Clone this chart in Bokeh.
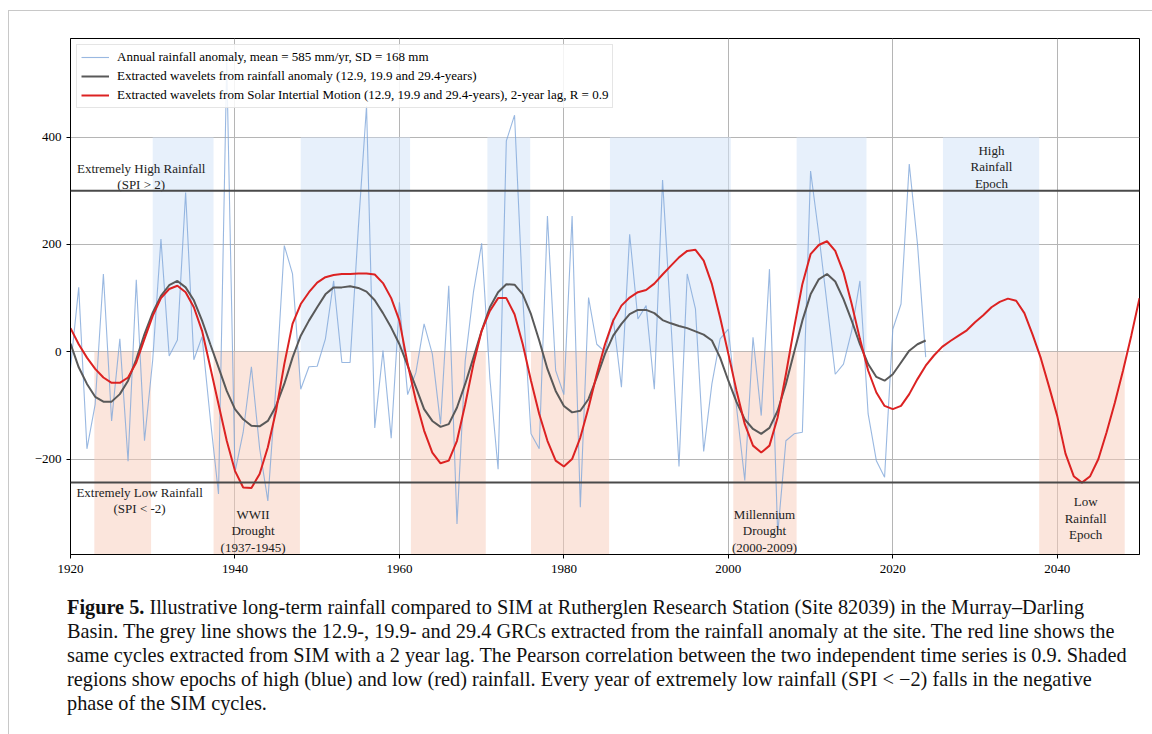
from bokeh.plotting import figure
from bokeh.models import Range1d, Span, Div, FixedTicker
from bokeh.layouts import column
from bokeh.embed import file_html
from bokeh.resources import INLINE
from bokeh.core.properties import value

# ---------------- data ----------------
rain_years = list(range(1920, 2025))
rain_anomaly = [
    -30, 120, -181, -98, 145, -129, 24, -204, 134, -166,
    -15, 210, -8, 22, 297, -15, 28, -125, -265, 540,
    -225, -150, -28, -180, -278, -60, 198, 145, -70, -28,
    -27, 24, 132, -20, -20, 230, 458, -142, 2, -161,
    92, -80, -39, 52, -4, -135, 123, -321, -17, 111,
    202, -50, -219, 393, 441, 100, -153, -181, 253, -35,
    -80, 253, -290, 101, 14, 0, 62, -66, 219, 61,
    86, -70, 320, 60, -214, 145, 80, -186, -60, 24,
    42, -104, -240, 27, -119, 154, -340, -166, -153, -150,
    337, 219, 89, -42, -23, 39, 132, -116, -203, -234,
    42, 89, 350, 201, -10,
]
rain_wavelets = [
    15, -29, -60, -84, -93, -93, -79, -54, -14, 33,
    73, 104, 124, 132, 120, 96, 58, 14, -29, -73,
    -107, -126, -138, -139, -129, -101, -60, -11, 30, 58,
    83, 107, 120, 120, 122, 119, 112, 96, 72, 45,
    14, -26, -66, -107, -129, -140, -135, -104, -60, -11,
    39, 83, 111, 126, 125, 107, 70, 21, -32, -73,
    -101, -113, -110, -88, -48, -4, 30, 52, 70, 78,
    78, 72, 59, 53, 48, 44, 38, 32, 21, -11,
    -54, -94, -126, -144, -153, -142, -110, -60, -1, 58,
    107, 135, 145, 131, 98, 58, 14, -23, -47, -54,
    -42, -20, 2, 14, 21,
]
sim_years = list(range(1920, 2051))
sim_wavelets = [
    44, 14, -11, -32, -48, -58, -58, -48, -20, 24,
    67, 100, 117, 123, 111, 83, 39, -29, -98, -166,
    -222, -253, -254, -228, -178, -110, -23, 52, 89, 111,
    129, 139, 143, 145, 145, 146, 146, 144, 128, 100,
    58, -23, -91, -147, -188, -208, -203, -166, -98, -23,
    39, 76, 100, 100, 70, 14, -54, -116, -166, -203,
    -214, -200, -160, -104, -42, 14, 58, 86, 101, 111,
    115, 127, 144, 160, 176, 188, 190, 170, 126, 64,
    -4, -73, -135, -175, -188, -175, -122, -42, 45, 126,
    182, 199, 206, 188, 148, 89, 24, -35, -76, -101,
    -107, -101, -79, -51, -26, -7, 9, 20, 30, 40,
    55, 68, 83, 93, 99, 95, 72, 32, -12, -65,
    -120, -190, -232, -244, -232, -200, -150, -95, -35, 30,
    100,
]
high_epoch_start = [1930.0, 1948.0, 1970.7, 1985.6, 2008.3, 2026.1]
high_epoch_end = [1937.4, 1961.3, 1975.9, 2000.3, 2016.8, 2037.8]
high_epoch_top = 400
low_epoch_start = [1922.9, 1937.4, 1961.4, 1976.0, 2000.6, 2037.8]
low_epoch_end = [1929.8, 1947.9, 1970.5, 1985.5, 2008.3, 2048.2]
spi_high = 300
spi_low = -244
x_ticks = [1920, 1940, 1960, 1980, 2000, 2020, 2040]
y_ticks = [-200, 0, 200, 400]

Y_MIN, Y_MAX = -378, 584
SERIF = "Liberation Serif"

p = figure(width=1143, height=579, output_backend="svg", toolbar_location=None,
           x_range=Range1d(1920, 2050), y_range=Range1d(Y_MIN, Y_MAX))
p.min_border_left = 61
p.min_border_right = 13
p.min_border_top = 27
p.min_border_bottom = 36
p.outline_line_color = "black"
p.outline_line_alpha = 1.0
p.outline_line_width = 1
p.background_fill_color = "white"
p.border_fill_color = "white"

for g in (p.xgrid[0], p.ygrid[0]):
    g.grid_line_color = "#b5b5b5"
    g.grid_line_width = 1
p.xaxis.ticker = FixedTicker(ticks=x_ticks)
p.yaxis.ticker = FixedTicker(ticks=y_ticks)
p.yaxis.major_label_overrides = {t: (("\u2212" + str(abs(t))) if t < 0 else str(t)) for t in y_ticks}
for ax in (p.xaxis[0], p.yaxis[0]):
    ax.axis_line_color = "black"
    ax.major_tick_line_color = "black"
    ax.major_tick_out = 4
    ax.major_tick_in = 0
    ax.minor_tick_line_color = None
    ax.major_label_text_font = SERIF
    ax.major_label_text_font_size = "13px"
    ax.major_label_text_color = "black"
p.xaxis.major_label_standoff = 6
p.yaxis.major_label_standoff = 5

# shaded epochs
p.quad(left=high_epoch_start, right=high_epoch_end, bottom=0, top=high_epoch_top,
       fill_color="#d3e4f7", fill_alpha=0.55, line_color=None)
p.quad(left=low_epoch_start, right=low_epoch_end, bottom=Y_MIN, top=0,
       fill_color="#f8cbb9", fill_alpha=0.5, line_color=None)

# thresholds
p.add_layout(Span(location=spi_high, dimension="width", line_color="#4a4a4a", line_width=2))
p.add_layout(Span(location=spi_low, dimension="width", line_color="#4a4a4a", line_width=2))

p.line(rain_years, rain_anomaly, line_color="#7fa6da", line_alpha=0.8, line_width=1.1,
       legend_label="Annual rainfall anomaly, mean = 585 mm/yr, SD = 168 mm")
p.line(rain_years, rain_wavelets, line_color="#595959", line_width=2,
       legend_label="Extracted wavelets from rainfall anomaly (12.9, 19.9 and 29.4-years)")
p.line(sim_years, sim_wavelets, line_color="#dc2222", line_width=2,
       legend_label="Extracted wavelets from Solar Intertial Motion (12.9, 19.9 and 29.4-years), 2-year lag, R = 0.9")

# annotations
ann_x = [1928.6, 1928.4, 1942.2, 2004.4, 2043.45, 2032.0]
ann_y = [327, -277, -334, -334, -310, 345]
ann_text = ["Extremely High Rainfall\n(SPI > 2)", "Extremely Low Rainfall\n(SPI < -2)",
            "WWII\nDrought\n(1937-1945)", "Millennium\nDrought\n(2000-2009)",
            "Low\nRainfall\nEpoch", "High\nRainfall\nEpoch"]
p.text(x=ann_x, y=ann_y, text=ann_text, text_font=value(SERIF), text_font_size="13px",
       text_color="#222222", text_align="center", text_baseline="middle", text_line_height=1.1)

lg = p.legend[0]
lg.location = "top_left"
lg.margin = 6
lg.padding = 4
lg.spacing = 3
lg.label_height = 16
lg.glyph_height = 16
lg.glyph_width = 28
lg.label_standoff = 8
lg.label_text_font = SERIF
lg.label_text_font_size = "13px"
lg.label_text_color = "black"
lg.border_line_color = "#cccccc"
lg.border_line_width = 1
lg.background_fill_alpha = 0.85

caption = Div(text=(
    "<div style=\"font-family:'Liberation Serif',serif;font-size:20.3px;line-height:24px;"
    "color:#111;white-space:nowrap;padding-left:53px;padding-top:0px\">"
    "<b>Figure 5.</b> Illustrative long-term rainfall compared to SIM at Rutherglen Research Station (Site 82039) in the Murray\u2013Darling<br>"
    "Basin. The grey line shows the 12.9-, 19.9- and 29.4 GRCs extracted from the rainfall anomaly at the site. The red line shows the<br>"
    "same cycles extracted from SIM with a 2 year lag. The Pearson correlation between the two independent time series is 0.9. Shaded<br>"
    "regions show epochs of high (blue) and low (red) rainfall. Every year of extremely low rainfall (SPI &lt; \u22122) falls in the negative<br>"
    "phase of the SIM cycles.</div>"), width=1143, height=134)

layout = column(p, caption, spacing=0,
                styles={"border-left": "1px solid #c8c8c8", "border-top": "1px solid #c8c8c8",
                        "margin-left": "8px", "margin-top": "10px", "background": "white"})

open("out.html", "w").write(file_html(layout, INLINE))
